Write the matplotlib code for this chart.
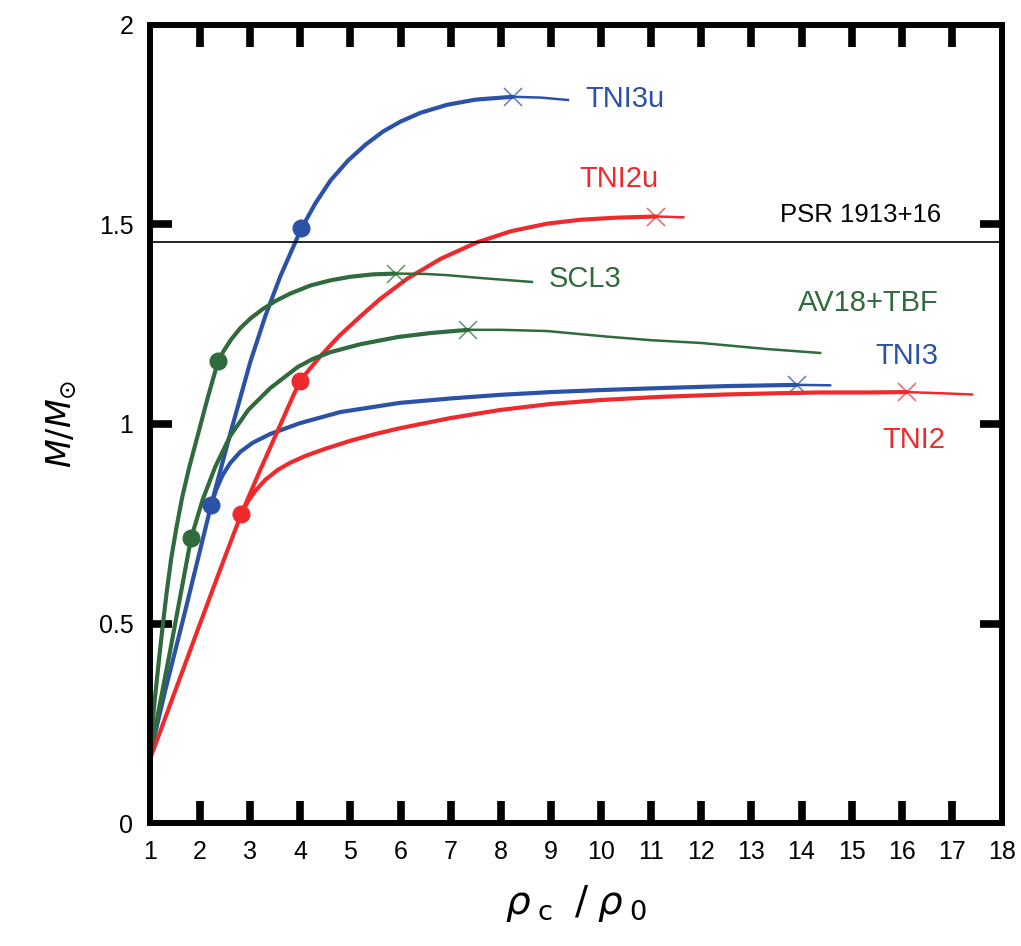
import matplotlib
matplotlib.use("Agg")
import matplotlib.pyplot as plt

plt.rcParams['font.family'] = ['Liberation Sans', 'DejaVu Sans']
plt.rcParams['mathtext.fontset'] = 'dejavusans'

# ---- data (rho_c/rho_0, M/Msun) ----
# TNI3u (blue, stiff branch)
tni3u_x = [1.0, 1.3, 1.7, 2.22, 2.6, 3.0, 3.3, 3.6, 4.02, 4.3, 4.6, 4.95, 5.3, 5.65, 6.0, 6.4, 6.93, 7.5, 8.24, 8.8, 9.34]
tni3u_y = [0.17, 0.33, 0.53, 0.797, 0.975, 1.155, 1.27, 1.37, 1.49, 1.553, 1.61, 1.66, 1.70, 1.733, 1.758, 1.78, 1.80, 1.813, 1.82, 1.818, 1.812]
# TNI3 (blue, branch from first blue dot)
tni3_x = [2.22, 2.32, 2.45, 2.6, 2.8, 3.05, 3.4, 3.99, 4.8, 5.99, 7.0, 7.98, 9.0, 9.98, 11.18, 12.5, 13.9, 14.57]
tni3_y = [0.797, 0.835, 0.872, 0.902, 0.93, 0.953, 0.975, 1.002, 1.03, 1.053, 1.064, 1.073, 1.08, 1.085, 1.09, 1.095, 1.098, 1.097]
# TNI2u (red, stiff branch)
tni2u_x = [1.0, 1.5, 2.0, 2.4, 2.82, 3.2, 3.6, 3.99, 4.4, 4.77, 5.2, 5.59, 6.13, 6.8, 7.52, 8.2, 8.92, 9.6, 10.3, 11.1, 11.64]
tni2u_y = [0.16, 0.33, 0.50, 0.635, 0.774, 0.885, 0.998, 1.108, 1.17, 1.22, 1.27, 1.313, 1.364, 1.414, 1.455, 1.483, 1.502, 1.512, 1.517, 1.52, 1.518]
# TNI2 (red, branch from first red dot)
tni2_x = [2.82, 2.95, 3.1, 3.3, 3.55, 3.8, 4.1, 4.5, 5.0, 5.5, 5.97, 7.0, 7.98, 8.98, 9.98, 11.18, 12.5, 13.5, 14.37, 15.3, 16.1, 16.8, 17.4]
tni2_y = [0.774, 0.805, 0.832, 0.86, 0.885, 0.903, 0.92, 0.938, 0.958, 0.975, 0.989, 1.015, 1.035, 1.05, 1.06, 1.068, 1.074, 1.077, 1.079, 1.079, 1.08, 1.077, 1.074]
# SCL3 (green, upper)
scl3_x = [1.0, 1.05, 1.1, 1.18, 1.25, 1.33, 1.42, 1.52, 1.64, 1.78, 1.96, 2.15, 2.36, 2.48, 2.62, 2.8, 3.0, 3.25, 3.5, 3.8, 4.2,
          4.6, 5.0, 5.45, 5.9, 6.5, 6.93, 7.58, 8.1, 8.62]
scl3_y = [0.18, 0.25, 0.315, 0.41, 0.49, 0.575, 0.66, 0.735, 0.815, 0.89, 0.975, 1.065, 1.158, 1.185, 1.212, 1.24, 1.264, 1.288,
          1.308, 1.327, 1.347, 1.36, 1.369, 1.375, 1.377, 1.376, 1.373, 1.366, 1.361, 1.356]
# AV18+TBF (green, lower)
av18_x = [1.0, 1.1, 1.4, 1.82, 2.05, 2.3, 2.6, 2.96, 3.4, 3.95, 4.25, 4.6, 5.2, 5.95, 6.6, 7.35, 8.0, 8.92, 10.12, 11.0, 12.0, 13.3, 14.37]
av18_y = [0.17, 0.235, 0.43, 0.714, 0.81, 0.892, 0.97, 1.035, 1.09, 1.143, 1.163, 1.18, 1.2, 1.218, 1.228, 1.236, 1.236, 1.233, 1.219, 1.21, 1.203, 1.188, 1.178]

# hyperon onset dots
green_dot_x = [1.82, 2.36]
green_dot_y = [0.714, 1.158]
blue_dot_x = [2.22, 4.02]
blue_dot_y = [0.797, 1.49]
red_dot_x = [2.82, 3.99]
red_dot_y = [0.774, 1.108]

psr_mass = 1.457

blue = '#2B52A6'
red = '#EE2A2D'
green = '#2F6B3C'

fig = plt.figure(figsize=(10.21, 9.46), dpi=100)
ax = fig.add_axes([0.1469, 0.130, 0.8345, 0.8436])

curves = [
    (tni3u_x, tni3u_y, blue, 8.24),
    (tni3_x, tni3_y, blue, 13.9),
    (tni2u_x, tni2u_y, red, 11.1),
    (tni2_x, tni2_y, red, 16.1),
    (scl3_x, scl3_y, green, 5.9),
    (av18_x, av18_y, green, 7.35),
]
for xs, ys, col, xmax in curves:
    k = xs.index(xmax)
    ax.plot(xs[:k + 1], ys[:k + 1], color=col, lw=3.0, solid_capstyle='round', solid_joinstyle='round')
    ax.plot(xs[k:], ys[k:], color=col, lw=1.8)
    ax.plot([xs[k]], [ys[k]], marker='x', ms=13, mew=1.1, color=col, alpha=0.75)

for dx, dy, col in [(green_dot_x, green_dot_y, green), (blue_dot_x, blue_dot_y, blue),
                    (red_dot_x, red_dot_y, red)]:
    ax.plot(dx, dy, 'o', color=col, ms=12, zorder=4)

ax.axhline(psr_mass, color='black', lw=1.2)

# labels
fs = 21
ax.text(9.68, 1.815, 'TNI3u', color=blue, fontsize=fs, va='center')
ax.text(9.56, 1.615, 'TNI2u', color=red, fontsize=fs, va='center')
ax.text(13.57, 1.524, 'PSR 1913+16', color='black', fontsize=18.5, va='center')
ax.text(8.96, 1.363, 'SCL3', color=green, fontsize=fs, va='center')
ax.text(13.93, 1.303, 'AV18+TBF', color=green, fontsize=fs, va='center')
ax.text(15.47, 1.170, 'TNI3', color=blue, fontsize=fs, va='center')
ax.text(15.61, 0.960, 'TNI2', color=red, fontsize=fs, va='center')

ax.set_xlim(1, 18)
ax.set_ylim(0, 2)
ax.set_xticks(range(1, 19))
ax.set_yticks([0, 0.5, 1, 1.5, 2])
ax.set_yticklabels(['0', '0.5', '1', '1.5', '2'])
ax.tick_params(direction='in', length=16, width=5.5, top=True, right=True,
               labelsize=18, pad=12)
# no tick marks in the corners
for t in [ax.xaxis.get_major_ticks()[0], ax.xaxis.get_major_ticks()[-1],
          ax.yaxis.get_major_ticks()[0], ax.yaxis.get_major_ticks()[-1]]:
    t.tick1line.set_visible(False)
    t.tick2line.set_visible(False)
for s in ax.spines.values():
    s.set_linewidth(4.3)

ax.set_xlabel(r'$\rho_{\;\mathrm{c}}\;\;/\;\rho_{\;0}$', fontsize=28, labelpad=14)
ax.set_ylabel(r'$M/M_{\odot}$', fontsize=24, labelpad=14)

fig.savefig('out.png', dpi=100)
